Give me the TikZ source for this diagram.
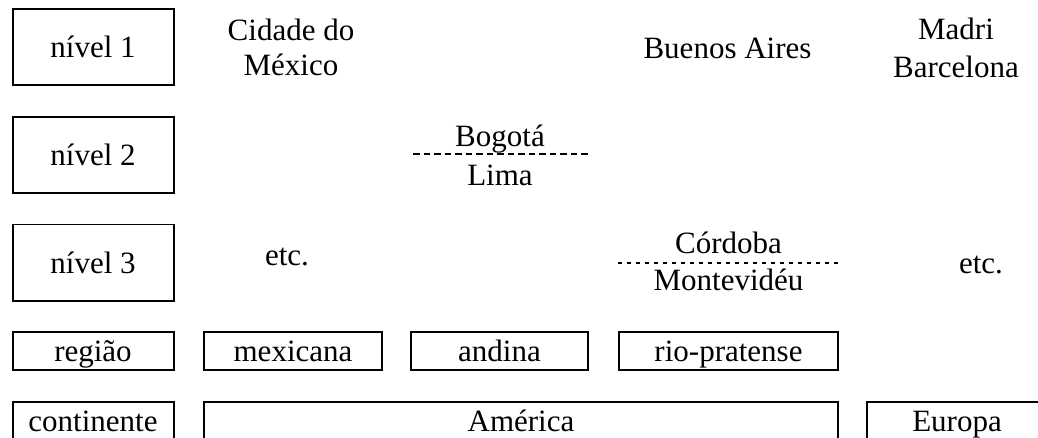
\documentclass[tikz,border=0pt]{standalone}
\usepackage{fontspec}
\setmainfont{Liberation Serif}
\begin{document}
\begin{tikzpicture}[x=1pt,y=-1pt,
  every node/.style={font=\fontsize{31}{35}\selectfont, inner sep=0pt, outer sep=0pt},
  lbl/.style={anchor=base},
  frame/.style={draw=black, line width=1.8pt},
  sep1/.style={draw=black, line width=1.8pt, dash pattern=on 6.5pt off 4pt},
  sep2/.style={draw=black, line width=1.8pt, dash pattern=on 3.5pt off 5.5pt}]
\useasboundingbox (0,0) rectangle (1038,437);
% level boxes
\draw[frame] (12.7,9.3) rectangle (173.7,85);
\node[lbl] (n1) at (93,57.8) {nível 1};
\draw[frame] (12.7,117) rectangle (173.7,193);
\node[lbl] (n2) at (93,165.5) {nível 2};
\draw[frame] (12.7,224.5) rectangle (173.7,301);
\node[lbl] (n3) at (93,273) {nível 3};
% region row
\draw[frame] (12.7,332) rectangle (173.7,370);
\node[lbl] (reg) at (93,361.7) {região};
\draw[frame] (204,332) rectangle (382,370);
\node[lbl] (mex) at (293,361.7) {mexicana};
\draw[frame] (411,332) rectangle (588,370);
\node[lbl] (and) at (499.5,361.7) {andina};
\draw[frame] (619,332) rectangle (838,370);
\node[lbl] (rio) at (728.5,361.7) {rio-pratense};
% continent row
\draw[frame] (12.7,402) rectangle (173.7,470);
\node[lbl] (cont) at (93,431.7) {continente};
\draw[frame] (204,402) rectangle (838,470);
\node[lbl] (amer) at (521,431.7) {América};
\draw[frame] (867,402) rectangle (1070,470);
\node[lbl] (eur) at (957,431.7) {Europa};
% cities
\node[lbl] (cid1) at (291,40) {Cidade do};
\node[lbl] (cid2) at (291,75) {México};
\node[lbl] (ba) at (727.5,58.3) {Buenos Aires};
\node[lbl] (mad) at (956,39.3) {Madri};
\node[lbl] (bar) at (956,77.3) {Barcelona};
\node[lbl] (bog) at (500,146) {Bogotá};
\node[lbl] (lim) at (500,185) {Lima};
\coordinate (d1a) at (413,154.3);
\coordinate (d1b) at (590,154.3);
\draw[sep1] (d1a) -- (d1b);
\node[lbl] (etc1) at (287,265) {etc.};
\node[lbl] (cor) at (728.5,253) {Córdoba};
\node[lbl] (mon) at (728.5,290) {Montevidéu};
\coordinate (d2a) at (618,263);
\coordinate (d2b) at (840,263);
\draw[sep2] (d2a) -- (d2b);
\node[lbl] (etc2) at (981,273.3) {etc.};
\end{tikzpicture}
\end{document}
